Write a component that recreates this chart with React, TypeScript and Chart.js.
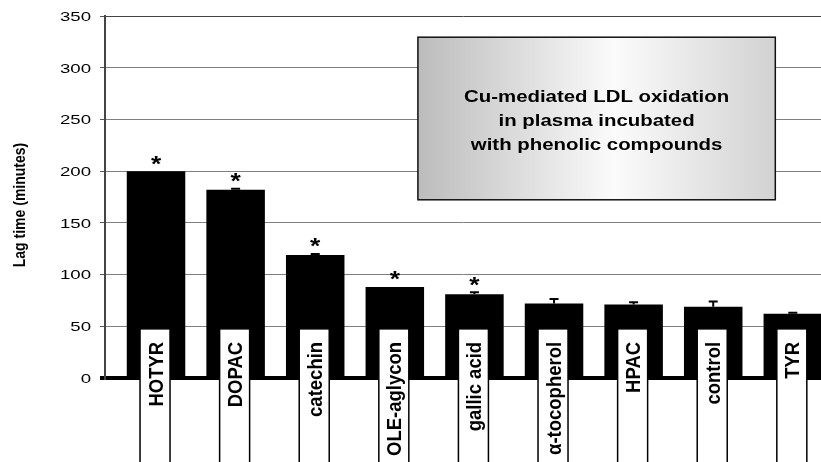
import React, { useEffect, useRef } from "react";
import { Chart, registerables } from "chart.js";

Chart.register(...registerables);

// Lag time of Cu-mediated LDL oxidation per compound (minutes), mean and error
const compounds = ["HOTYR", "DOPAC", "catechin", "OLE-aglycon", "gallic acid", "α-tocopherol", "HPAC", "control", "TYR"];
const lagTime = [200, 182, 119, 88, 81, 72, 71, 69, 62];
const lagError = [0, 1, 1, 0, 2, 4.5, 2.3, 5, 1];
const significant = [true, true, true, true, true, false, false, false, false];
const yTickValues = [0, 50, 100, 150, 200, 250, 300, 350];
const yAxisTitle = "Lag time (minutes)";
const noteLines = ["Cu-mediated LDL oxidation", "in plasma incubated", "with phenolic compounds"];

const W = 821;
const H = 462;
const FONT = '"Liberation Sans", Arial, Helvetica, sans-serif';

// note box corners in data units (x: category index, y: minutes)
const NOTE_LEFT = 3.29;
const NOTE_RIGHT = 7.78;
const NOTE_TOP = 329.5;
const NOTE_BOTTOM = 172.3;
// white name tags inside the bars start at this value
const TAG_TOP = 47.5;

const overlay = {
  id: "overlay",
  afterDatasetsDraw(chart: any) {
    const ctx: CanvasRenderingContext2D = chart.ctx;
    const xs = chart.scales.x;
    const ys = chart.scales.y;
    ctx.save();

    // error bars and significance stars
    compounds.forEach((_, i) => {
      const x = xs.getPixelForValue(i);
      const yTop = ys.getPixelForValue(lagTime[i]);
      const yErr = ys.getPixelForValue(lagTime[i] + lagError[i]);
      if (lagError[i] > 0) {
        ctx.strokeStyle = "#000";
        ctx.lineWidth = 2;
        ctx.beginPath();
        ctx.moveTo(x, yTop);
        ctx.lineTo(x, yErr);
        ctx.moveTo(x - 4.5, yErr);
        ctx.lineTo(x + 4.5, yErr);
        ctx.stroke();
      }
      if (significant[i]) {
        ctx.save();
        ctx.translate(x, yErr - 13);
        ctx.scale(1.2, 1);
        ctx.fillStyle = "#000";
        ctx.font = `bold 22px ${FONT}`;
        ctx.textAlign = "center";
        ctx.textBaseline = "alphabetic";
        ctx.fillText("*", 0, 12.5);
        ctx.restore();
      }
    });

    // name tags
    const tagTop = ys.getPixelForValue(TAG_TOP);
    compounds.forEach((name, i) => {
      const cx = xs.getPixelForValue(i) - 1;
      ctx.fillStyle = "#fff";
      ctx.fillRect(cx - 15, tagTop, 30, H - tagTop + 5);
      ctx.strokeStyle = "#000";
      ctx.lineWidth = 1.5;
      ctx.strokeRect(cx - 15, tagTop, 30, H - tagTop + 5);
      ctx.save();
      ctx.translate(cx, tagTop + 13);
      ctx.rotate(-Math.PI / 2);
      ctx.scale(1, 1.13);
      ctx.fillStyle = "#000";
      ctx.font = `bold 18.5px ${FONT}`;
      ctx.textAlign = "right";
      ctx.textBaseline = "alphabetic";
      ctx.fillText(name, 0, 0.716 * 18.5 / 2);
      ctx.restore();
    });

    // note box
    const nx1 = xs.getPixelForValue(NOTE_LEFT);
    const nx2 = xs.getPixelForValue(NOTE_RIGHT);
    const ny1 = ys.getPixelForValue(NOTE_TOP);
    const ny2 = ys.getPixelForValue(NOTE_BOTTOM);
    const grad = ctx.createLinearGradient(nx1, 0, nx2, 0);
    grad.addColorStop(0, "#bcbcbc");
    grad.addColorStop(0.55, "#fbfbfb");
    grad.addColorStop(1, "#d2d2d2");
    ctx.fillStyle = grad;
    ctx.fillRect(nx1, ny1, nx2 - nx1, ny2 - ny1);
    ctx.strokeStyle = "#111";
    ctx.lineWidth = 1.5;
    ctx.strokeRect(nx1, ny1, nx2 - nx1, ny2 - ny1);
    noteLines.forEach((line, k) => {
      ctx.save();
      ctx.translate((nx1 + nx2) / 2, ny1 + 64.5 + k * 24);
      ctx.scale(1.2, 1);
      ctx.fillStyle = "#000";
      ctx.font = `bold 17px ${FONT}`;
      ctx.textAlign = "center";
      ctx.textBaseline = "alphabetic";
      ctx.fillText(line, 0, 0);
      ctx.restore();
    });

    // y tick labels
    ys.ticks.forEach((t: any) => {
      const y = ys.getPixelForValue(t.value);
      ctx.save();
      ctx.translate(91, y + 0.358 * 13.5);
      ctx.scale(1.38, 1);
      ctx.fillStyle = "#000";
      ctx.font = `13.5px ${FONT}`;
      ctx.textAlign = "right";
      ctx.textBaseline = "alphabetic";
      ctx.fillText(String(t.value), 0, 0);
      ctx.restore();
    });

    // y axis title
    ctx.save();
    ctx.translate(25, 205);
    ctx.rotate(-Math.PI / 2);
    ctx.scale(1, 1.2);
    ctx.fillStyle = "#000";
    ctx.font = `bold 14px ${FONT}`;
    ctx.textAlign = "center";
    ctx.textBaseline = "alphabetic";
    ctx.fillText(yAxisTitle, 0, 0);
    ctx.restore();

    ctx.restore();
  },
};

export default function App() {
  const canvasRef = useRef<HTMLCanvasElement | null>(null);

  useEffect(() => {
    if (!canvasRef.current) return;
    const chart = new Chart(canvasRef.current, {
      type: "bar",
      data: {
        datasets: [
          {
            data: compounds.map((_, i) => ({ x: i, y: lagTime[i] })),
            backgroundColor: "#000",
            borderWidth: 0,
            barPercentage: 0.735,
            categoryPercentage: 1,
          },
        ],
      },
      options: {
        animation: false,
        responsive: false,
        devicePixelRatio: 1,
        events: [],
        layout: { padding: { top: 16, bottom: 84, left: 0, right: 0 } },
        plugins: {
          legend: { display: false },
          tooltip: { enabled: false },
          title: { display: false },
        },
        scales: {
          x: {
            type: "linear",
            min: -0.641,
            max: 8.354,
            offset: false,
            display: false,
            grid: { display: false },
          },
          y: {
            type: "linear",
            min: 0,
            max: 350,
            afterBuildTicks: (scale: any) => {
              scale.ticks = yTickValues.map((v) => ({ value: v }));
            },
            afterFit: (scale: any) => {
              scale.width = 105;
            },
            ticks: { display: false },
            grid: {
              drawTicks: true,
              tickLength: 5,
              color: (c: any) => (c.tick && c.tick.value === 0 ? "#000" : c.tick && c.tick.value === 350 ? "#444" : "#808080"),
              tickColor: (c: any) => (c.tick && c.tick.value === 0 ? "#000" : "#555"),
              lineWidth: (c: any) => (c.tick && c.tick.value === 0 ? 4 : 1),
            },
            border: { display: true, color: "#444", width: 2 },
          },
        },
      },
      plugins: [overlay],
    } as any);
    return () => chart.destroy();
  }, []);

  return (
    <div style={{ position: "fixed", left: 0, top: 0, width: W, height: H, background: "#fff" }}>
      <canvas ref={canvasRef} width={W} height={H} style={{ display: "block" }} />
    </div>
  );
}
